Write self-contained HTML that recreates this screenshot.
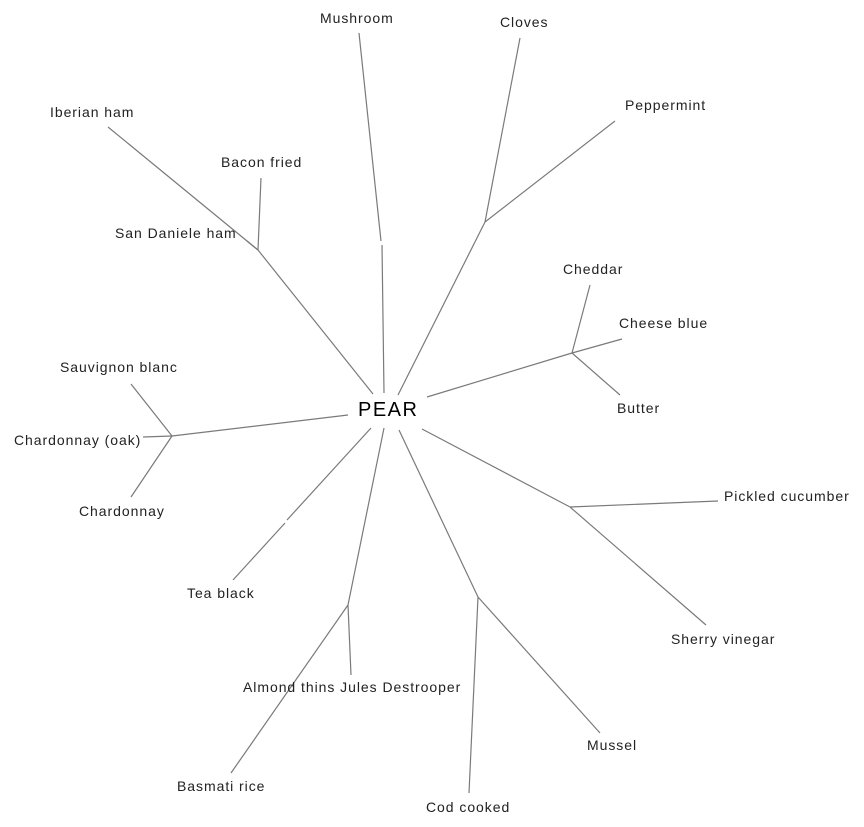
<!DOCTYPE html>
<html><head><meta charset="utf-8"><style>
html,body{margin:0;padding:0;background:#fff;}
svg{display:block;}
text{font-family:"Liberation Sans",Arial,sans-serif;font-size:14px;fill:#222;letter-spacing:0.95px;}
line{stroke:#7a7a7a;stroke-width:1.2;}
</style></head><body>
<svg width="864" height="827" viewBox="0 0 864 827" xmlns="http://www.w3.org/2000/svg">
<line x1="384" y1="393" x2="382" y2="245"/>
<line x1="381" y1="241" x2="359" y2="33"/>
<line x1="398" y1="395" x2="485" y2="222"/>
<line x1="485" y1="222" x2="520" y2="38"/>
<line x1="485" y1="222" x2="615" y2="121"/>
<line x1="373" y1="394" x2="258" y2="250"/>
<line x1="258" y1="250" x2="108" y2="127"/>
<line x1="258" y1="250" x2="261" y2="178"/>
<line x1="258" y1="250" x2="247" y2="241"/>
<line x1="427" y1="397" x2="572" y2="353"/>
<line x1="572" y1="353" x2="590" y2="285"/>
<line x1="572" y1="353" x2="622" y2="339"/>
<line x1="572" y1="353" x2="620" y2="395"/>
<line x1="348" y1="415" x2="172" y2="436"/>
<line x1="172" y1="436" x2="131" y2="384"/>
<line x1="172" y1="436" x2="143" y2="437"/>
<line x1="172" y1="436" x2="131" y2="497"/>
<line x1="371" y1="428" x2="287" y2="520"/>
<line x1="285" y1="523" x2="233" y2="580"/>
<line x1="384" y1="428" x2="348" y2="605"/>
<line x1="348" y1="605" x2="351" y2="675"/>
<line x1="348" y1="605" x2="231" y2="773"/>
<line x1="399" y1="430" x2="478" y2="597"/>
<line x1="478" y1="597" x2="469" y2="793"/>
<line x1="478" y1="597" x2="600" y2="733"/>
<line x1="422" y1="429" x2="570" y2="507"/>
<line x1="570" y1="507" x2="718" y2="501"/>
<line x1="570" y1="507" x2="706" y2="625"/>

<text x="358" y="416" style="font-size:20px;fill:#000;letter-spacing:1.5px">PEAR</text>
<text x="320" y="23">Mushroom</text>
<text x="500" y="27">Cloves</text>
<text x="625" y="110">Peppermint</text>
<text x="50" y="117">Iberian ham</text>
<text x="221" y="167">Bacon fried</text>
<text x="115" y="238">San Daniele ham</text>
<text x="563" y="274">Cheddar</text>
<text x="619" y="328">Cheese blue</text>
<text x="617" y="413">Butter</text>
<text x="60" y="372">Sauvignon blanc</text>
<text x="14" y="445">Chardonnay (oak)</text>
<text x="79" y="516">Chardonnay</text>
<text x="724" y="501">Pickled cucumber</text>
<text x="187" y="598">Tea black</text>
<text x="671" y="644">Sherry vinegar</text>
<text x="243" y="692">Almond thins Jules Destrooper</text>
<text x="587" y="750">Mussel</text>
<text x="177" y="791">Basmati rice</text>
<text x="426" y="812">Cod cooked</text>
</svg>
</body></html>
